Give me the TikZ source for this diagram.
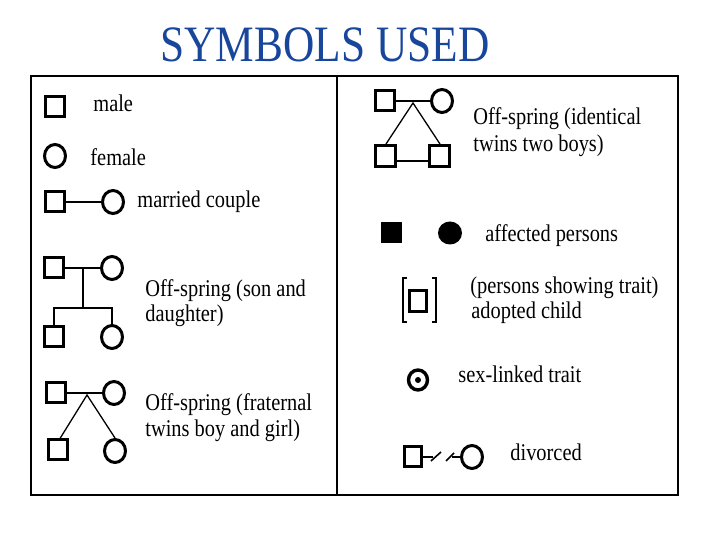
\documentclass[tikz,border=0pt]{standalone}
\usepackage{fontspec}
\setmainfont[FakeStretch=0.85]{Liberation Serif}
\usetikzlibrary{shapes.geometric}
\definecolor{titleblue}{RGB}{24,70,156}
\begin{document}
\begin{tikzpicture}[x=0.5pt,y=-0.5pt,
  male/.style={draw, rectangle, line width=1.5pt, minimum width=9.5pt, minimum height=10pt, inner sep=0pt},
  fem/.style={draw, ellipse, line width=1.5pt, minimum width=10.5pt, minimum height=11.5pt, inner sep=0pt},
  lbl/.style={anchor=base west, font=\fontsize{12pt}{14pt}\selectfont, inner sep=0pt},
  link/.style={line width=1pt},
  twin/.style={line width=0.65pt},
  frame/.style={line width=1.3pt}]
\useasboundingbox (0,0) rectangle (720,540);
% title
\node[anchor=base, text=titleblue, font=\fontsize{25.5pt}{30pt}\selectfont, inner sep=0pt] (title) at (325,62) {SYMBOLS USED};
% frame
\draw[frame] (31,76) rectangle (678,495);
\draw[frame] (337,76) -- (337,495);
% male
\node[male] (m1) at (55,107) {};
\node[lbl] (tmale) at (93,112) {male};
% female
\node[fem] (f1) at (55,156) {};
\node[lbl] (tfemale) at (90,166) {female};
% married couple
\node[male] (mc1) at (55,202) {};
\node[fem] (fc1) at (113,202) {};
\draw[link] (mc1) -- (fc1);
\node[lbl] (tmarried) at (137,208) {married couple};
% son and daughter
\node[male] (p2m) at (54,268) {};
\node[fem] (p2f) at (112,268) {};
\node[male] (c2m) at (54,337) {};
\node[fem] (c2f) at (112,337) {};
\coordinate (sdmid) at (83,268);
\coordinate (sdbar) at (83,308);
\draw[link] (p2m) -- (p2f);
\draw[link] (sdmid) -- (sdbar);
\draw[link] (c2m.north) |- (sdbar) -| (c2f.north);
\node[lbl] (tson1) at (145,297) {Off-spring (son and};
\node[lbl] (tson2) at (145,322) {daughter)};
% fraternal twins
\node[male] (p3m) at (56,393) {};
\node[fem] (p3f) at (114,393) {};
\node[male] (c3m) at (58,450) {};
\node[fem] (c3f) at (115,451) {};
\coordinate (ap3) at (87,395);
\draw[link] (p3m) -- (p3f);
\draw[twin] ([xshift=1pt]c3m.north) -- (ap3) -- (c3f.north);
\node[lbl] (tfra1) at (145,411) {Off-spring (fraternal};
\node[lbl] (tfra2) at (145,437) {twins boy and girl)};
% identical twins
\node[male] (p4m) at (385,101) {};
\node[fem] (p4f) at (442,101) {};
\node[male, minimum width=10pt, minimum height=10.5pt] (c4a) at (386,156) {};
\node[male, minimum width=10pt, minimum height=10.5pt] (c4b) at (440,156) {};
\coordinate (ap4) at (413,103);
\draw[link] (p4m) -- (p4f);
\draw[twin] (c4a.north) -- (ap4) -- (c4b.north);
\draw[link] ([yshift=-2.5pt]c4a.east) -- ([yshift=-2.5pt]c4b.west);
\node[lbl] (tid1) at (473,125) {Off-spring (identical};
\node[lbl] (tid2) at (473,152) {twins two boys)};
% affected persons
\node[rectangle, fill=black, minimum width=10.5pt, minimum height=10.5pt, inner sep=0pt] (am) at (392,233) {};
\node[ellipse, fill=black, minimum width=12pt, minimum height=11.5pt, inner sep=0pt] (af) at (450,233) {};
\node[lbl] (taff) at (485,242) {affected persons};
% adopted child
\node[male, minimum width=8.5pt, minimum height=10.5pt] (ad) at (418,301) {};
\draw[line width=1.2pt] (407,278) -- (403,278) -- (403,322) -- (407,322);
\draw[line width=1.2pt] (432,278) -- (436,278) -- (436,322) -- (432,322);
\node[lbl] (tad1) at (470,294) {(persons showing trait)};
\node[lbl] (tad2) at (471,319) {adopted child};
% sex-linked
\node[fem, line width=1.7pt, minimum width=9.5pt, minimum height=10pt] (sl) at (418,380) {};
\node[circle, fill=black, minimum size=3pt, inner sep=0pt] (sldot) at (sl.center) {};
\node[lbl] (tsl) at (458,383) {sex-linked trait};
% divorced
\node[male, minimum width=8.5pt, minimum height=10pt] (dm) at (413,457) {};
\node[fem] (df) at (472,457) {};
\coordinate (dv1) at (433,457);
\coordinate (dv2) at (452,457);
\draw[link] (dm.east) -- (dv1);
\draw[line width=0.8pt] (431,461) -- (441,452);
\draw[line width=0.8pt] (446,461) -- (454,453);
\draw[link] (dv2) -- (df.west);
\node[lbl] (tdiv) at (510,461) {divorced};
\end{tikzpicture}
\end{document}
